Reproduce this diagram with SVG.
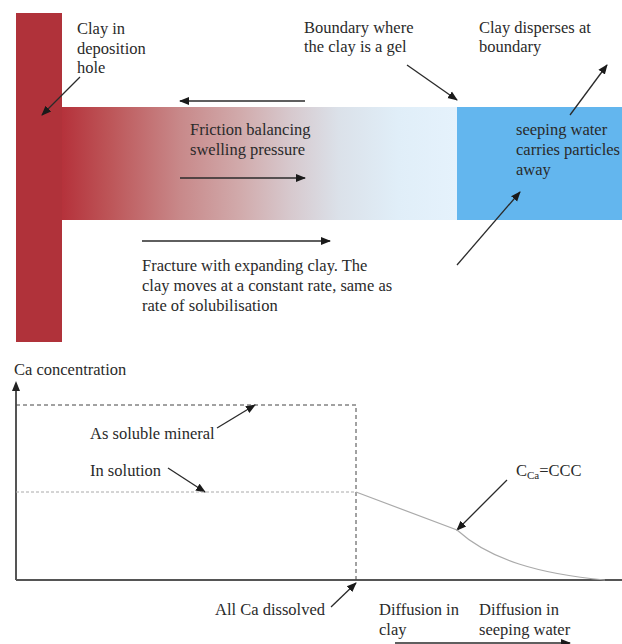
<svg xmlns="http://www.w3.org/2000/svg" width="622" height="644" viewBox="0 0 622 644">
<defs>
<linearGradient id="clayGrad" x1="62" y1="0" x2="457" y2="0" gradientUnits="userSpaceOnUse">
<stop offset="0" stop-color="#B5323B"/>
<stop offset="0.12" stop-color="#BD5558"/>
<stop offset="0.3" stop-color="#C8898A"/>
<stop offset="0.45" stop-color="#D1AAAB"/>
<stop offset="0.58" stop-color="#D7C9CE"/>
<stop offset="0.7" stop-color="#DBE1E9"/>
<stop offset="0.85" stop-color="#E0EEF8"/>
<stop offset="1" stop-color="#E5F2FC"/>
</linearGradient>
<marker id="ah" viewBox="0 0 10 10" refX="9" refY="5" markerWidth="10" markerHeight="10" markerUnits="userSpaceOnUse" orient="auto">
<path d="M0,1 L10,5 L0,9 z" fill="#1a1a1a"/>
</marker>
</defs>
<style>
text{font-size:16.5px;fill:#2a2a2a}
.ln{stroke:#2a2a2a;stroke-width:1.3;fill:none;marker-end:url(#ah)}
.axis{stroke:#555;stroke-width:2;fill:none}
.dash{stroke:#444;stroke-width:1;stroke-dasharray:4,3;fill:none}
.dot{stroke:#aaa;stroke-width:1;stroke-dasharray:3,2;fill:none}
.curve{stroke:#aaa;stroke-width:1.2;fill:none}
</style>

<g id="deposition-hole">
<rect x="16" y="13" width="46" height="329" fill="#B0323A"/>
</g>
<g id="fracture-clay">
<rect x="62" y="107" width="395" height="113" fill="url(#clayGrad)"/>
</g>
<g id="seeping-water">
<rect x="457" y="107" width="165" height="113" fill="#63B6EE"/>
</g>

<g id="connectors">
<line class="ln" x1="80" y1="77" x2="42" y2="115"/>
<line class="ln" x1="305" y1="101" x2="180" y2="101"/>
<line class="ln" x1="180" y1="178" x2="305" y2="178"/>
<line class="ln" x1="142" y1="241" x2="330" y2="241"/>
<line class="ln" x1="407" y1="65" x2="457" y2="100"/>
<line class="ln" x1="570" y1="115" x2="607" y2="65"/>
<line class="ln" x1="457" y1="265" x2="520" y2="192"/>
<line class="ln" x1="217" y1="428" x2="255" y2="405"/>
<line class="ln" x1="168" y1="468" x2="205" y2="492"/>
<line class="ln" x1="507" y1="480" x2="457" y2="530"/>
<line class="ln" x1="331" y1="607" x2="356" y2="583"/>
<line class="ln" x1="395" y1="643" x2="570" y2="643"/>
</g>

<g id="graph">
<line class="axis" x1="16" y1="580" x2="16" y2="390"/>
<path d="M16,381 L12,391 L20,391 z" fill="#222"/>
<line class="axis" x1="16" y1="580" x2="622" y2="580"/>
<polyline class="dash" points="16,405 356,405 356,580"/>
<line class="dot" x1="16" y1="492" x2="356" y2="492"/>
<path class="curve" d="M356,492 L457,530 C490,560 540,574 605,580"/>
</g>

<g id="labels" font-family="Liberation Serif, DejaVu Serif, serif">
<text x="77" y="34">Clay in</text>
<text x="77" y="54">deposition</text>
<text x="77" y="73">hole</text>
<text x="304" y="33">Boundary where</text>
<text x="304" y="52">the clay is a gel</text>
<text x="479" y="33">Clay disperses at</text>
<text x="479" y="52">boundary</text>
<text x="190" y="135">Friction balancing</text>
<text x="190" y="155">swelling pressure</text>
<text x="516" y="135">seeping water</text>
<text x="516" y="155">carries particles</text>
<text x="516" y="175">away</text>
<text x="142" y="271">Fracture with expanding clay. The</text>
<text x="142" y="291">clay moves at a constant rate, same as</text>
<text x="142" y="311">rate of solubilisation</text>
<text x="14" y="375">Ca concentration</text>
<text x="90" y="439">As soluble mineral</text>
<text x="90" y="476">In solution</text>
<text x="516" y="476">C<tspan font-size="11" dy="3">Ca</tspan><tspan dy="-3">=CCC</tspan></text>
<text x="215" y="615">All Ca dissolved</text>
<text x="379" y="615">Diffusion in</text>
<text x="379" y="635">clay</text>
<text x="479" y="615">Diffusion in</text>
<text x="479" y="635">seeping water</text>
</g>
</svg>
